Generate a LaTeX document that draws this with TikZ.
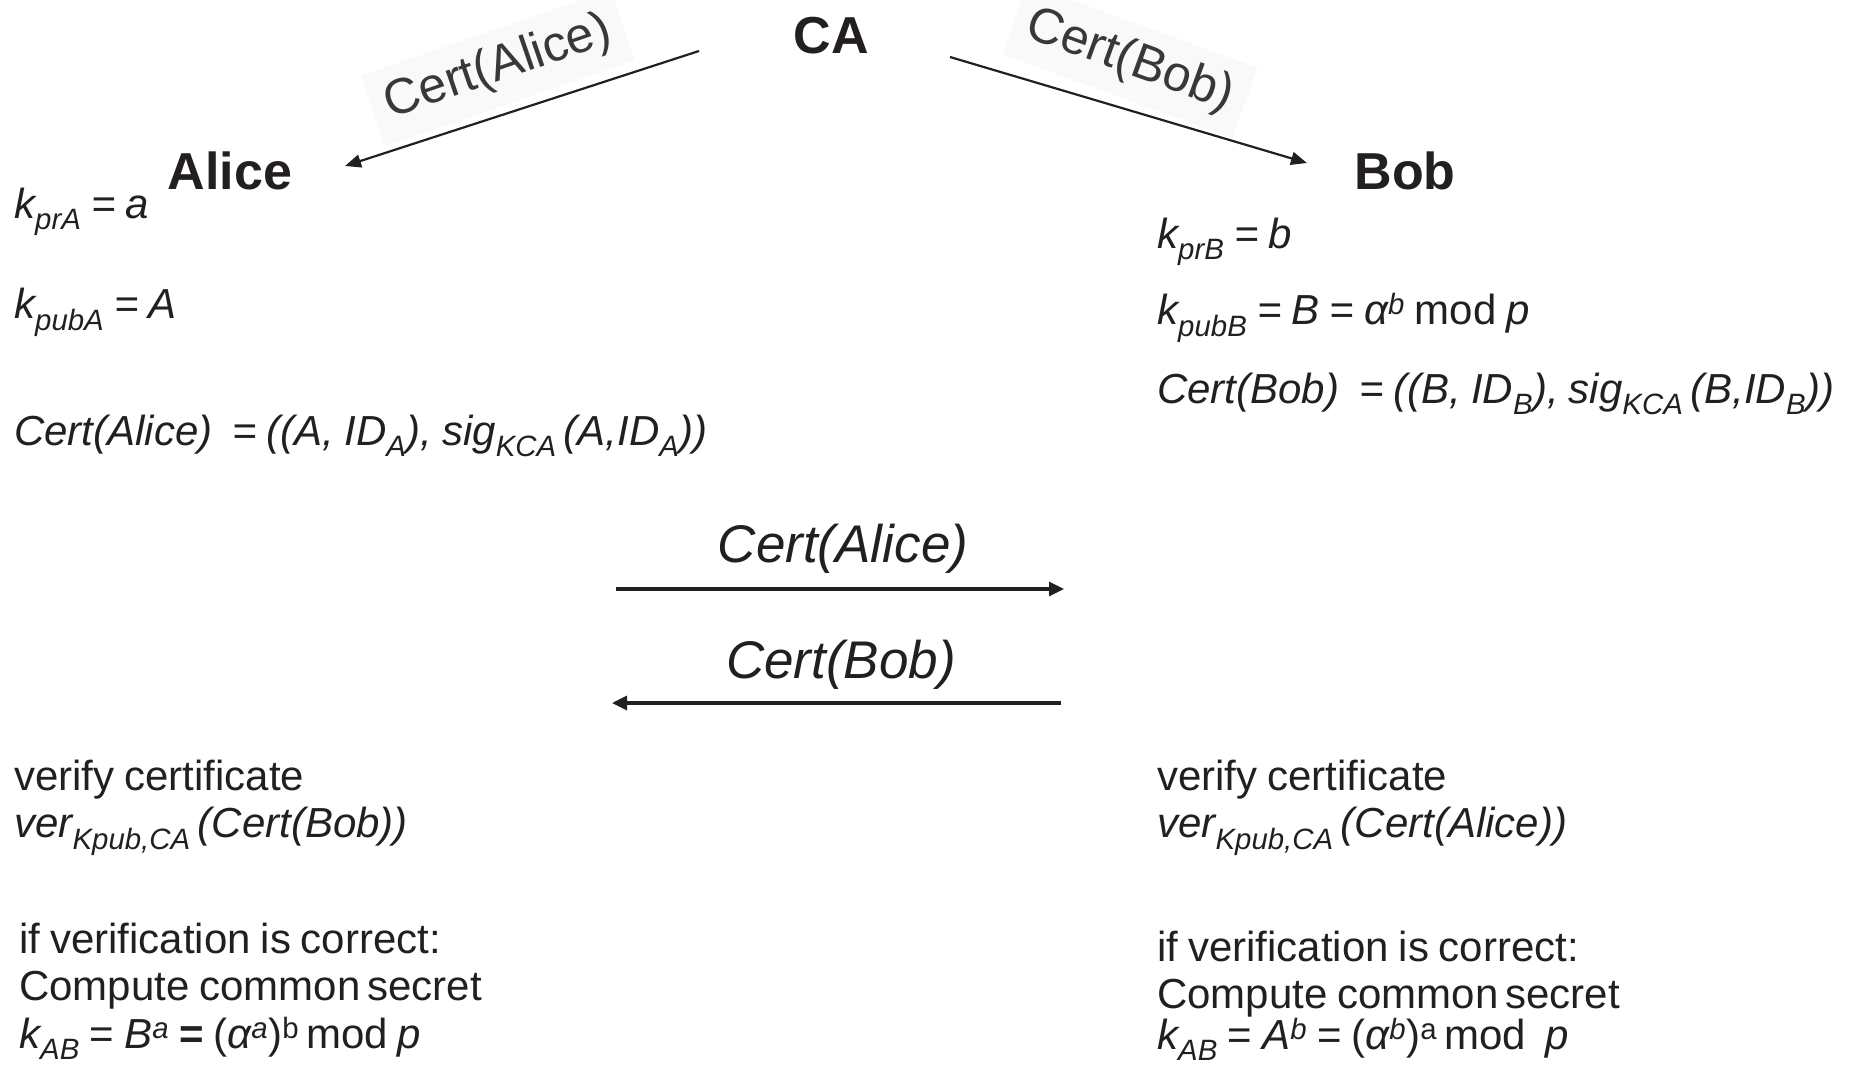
\documentclass[tikz,border=0pt]{standalone}
\usepackage{fontspec}
\setmainfont{Liberation Sans}[WordSpace=0.85]
\usetikzlibrary{arrows.meta}
\definecolor{ink}{HTML}{231F20}
\begin{document}
\begin{tikzpicture}[x=1pt,y=-1pt,
  body/.style={anchor=base west, inner sep=0pt, font=\fontsize{42}{47}\selectfont, text=ink},
  who/.style={anchor=base, inner sep=0pt, font=\fontsize{52}{60}\selectfont\bfseries, text=ink},
  msg/.style={anchor=base, inner sep=0pt, font=\fontsize{53}{60}\selectfont\itshape, text=ink},
  tilted/.style={inner sep=14pt, fill=black!2.5, text=black!78, font=\fontsize{50}{58}\selectfont},
  arrthin/.style={-{Triangle[length=16pt,width=13pt]}, line width=2.2pt, draw=ink},
  arrthick/.style={-{Triangle[length=15pt,width=14pt]}, line width=3.2pt, draw=ink},
]
\useasboundingbox (0,0) rectangle (1849,1065);

% CA and parties
\node[who] (ca) at (831,53) {CA};
\node[who] (alice) at (230,189) {Alice};
\node[who] (bob) at (1405,189) {Bob};

% tilted labels
\node[tilted, rotate=19] (lblA) at (498,68) {Cert(Alice)};
\node[tilted, rotate=-20] (lblB) at (1130,61) {Cert(Bob)};

\coordinate (caL) at (699,51);
\coordinate (aliceIn) at (345,166);
\coordinate (caR) at (950,57);
\coordinate (bobIn) at (1307,163);
\draw[arrthin] (caL) -- (aliceIn);
\draw[arrthin] (caR) -- (bobIn);

% Alice keys
\node[body] (a1) at (14,218) {\itshape k\textsubscript{prA} = a};
\node[body] (a2) at (14,318) {\itshape k\textsubscript{pubA} = A};
\node[body] (a3) at (14,445) {\itshape Cert(Alice)\ \ = ((A, ID\textsubscript{A}), sig\textsubscript{KCA}\,(A,ID\textsubscript{A}))};

% Bob keys
\node[body] (b1) at (1157,248) {\itshape k\textsubscript{prB} = b};
\node[body] (b2) at (1157,324) {{\itshape k\textsubscript{pubB} = B = α\textsuperscript{b}} mod {\itshape p}};
\node[body] (b3) at (1157,403) {\itshape Cert(Bob)\ \ = ((B, ID\textsubscript{B}), sig\textsubscript{KCA}\,(B,ID\textsubscript{B}))};

% exchange
\node[msg] (m1) at (843,562) {Cert(Alice)};
\coordinate (m1s) at (616,589);
\coordinate (m1e) at (1064,589);
\draw[arrthick] (m1s) -- (m1e);
\node[msg] (m2) at (841,678) {Cert(Bob)};
\coordinate (m2s) at (1061,703);
\coordinate (m2e) at (612,703);
\draw[arrthick] (m2s) -- (m2e);

% Alice verification
\node[body] (av1) at (14,790) {verify certificate};
\node[body] (av2) at (14,837) {\itshape ver\textsubscript{Kpub,CA}\,(Cert(Bob))};
\node[body] (av3) at (19,953) {if verification is correct:};
\node[body] (av4) at (19,1000) {Compute common\,secret};
\node[body] (av5) at (19,1048) {{\itshape k\textsubscript{AB}} = {\itshape B\textsuperscript{a}}\ {\bfseries =}\ ({\itshape α\textsuperscript{a}})\textsuperscript{b}\,mod {\itshape p}};

% Bob verification
\node[body] (bv1) at (1157,790) {verify certificate};
\node[body] (bv2) at (1157,837) {\itshape ver\textsubscript{Kpub,CA}\,(Cert(Alice))};
\node[body] (bv3) at (1157,961) {if verification is correct:};
\node[body] (bv4) at (1157,1008) {Compute common\,secret};
\node[body] (bv5) at (1157,1049) {{\itshape k\textsubscript{AB}} = {\itshape A\textsuperscript{b}} = ({\itshape α\textsuperscript{b}})\textsuperscript{a}\,mod\ \ {\itshape p}};
\end{tikzpicture}
\end{document}
